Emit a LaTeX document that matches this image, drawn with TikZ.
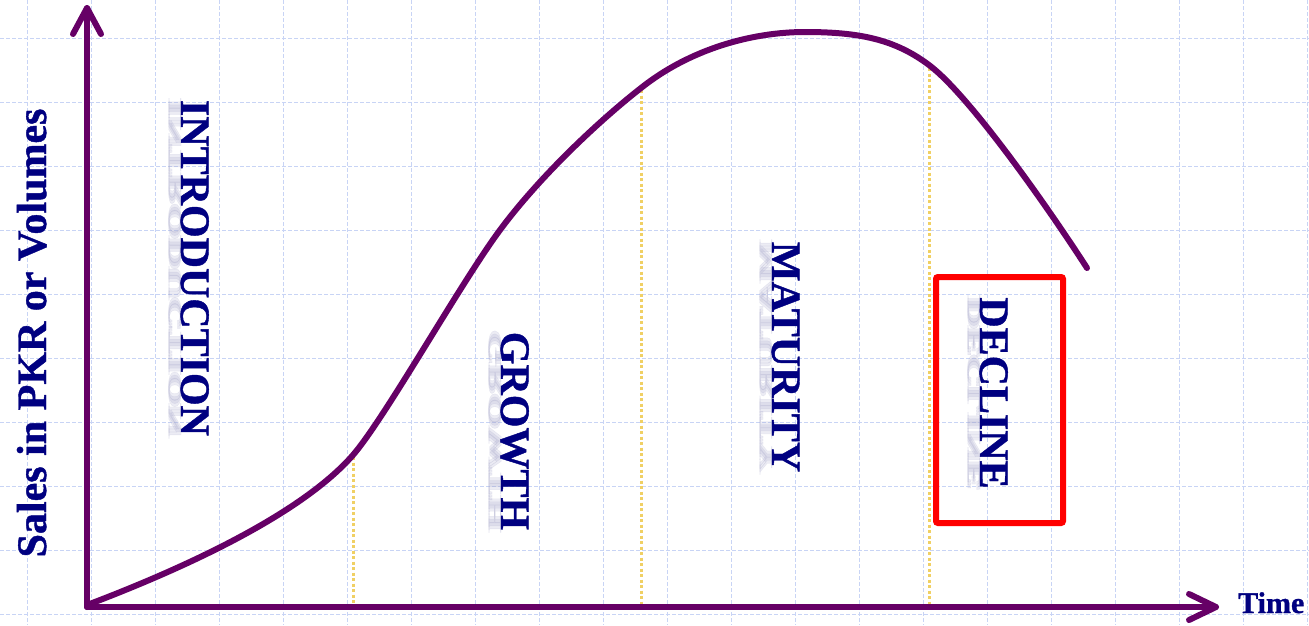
\documentclass[tikz,border=0pt]{standalone}
\usepackage{fontspec}
\setmainfont{Liberation Serif}
\newfontfamily\heavyserif[FakeBold=1.0]{Liberation Serif}
\definecolor{plum}{RGB}{102,0,102}
\definecolor{navytext}{RGB}{0,0,128}
\definecolor{gridblue}{RGB}{200,212,245}
\definecolor{gold}{RGB}{240,208,100}
\definecolor{reflgray}{RGB}{170,170,205}
\tikzset{
  gridline/.style={gridblue, line width=1pt, dash pattern=on 4pt off 2pt},
  axisline/.style={plum, line width=6pt, line cap=round, line join=round},
  curveline/.style={plum, line width=6pt, line cap=round},
  phaseline/.style={gold, line width=3pt, dash pattern=on 3pt off 2.5pt},
  phasetext/.style={font=\fontsize{42}{50}\selectfont\heavyserif\bfseries, text=navytext, inner sep=0pt, anchor=base},
  refltext/.style={font=\fontsize{42}{50}\selectfont\heavyserif\bfseries, text=reflgray, opacity=0.22, inner sep=0pt, anchor=base, transform shape},
  axistext/.style={font=\fontsize{42}{50}\selectfont\heavyserif\bfseries, text=navytext, inner sep=0pt, anchor=base},
  highlight/.style={red, line width=6pt, rounded corners=2pt},
}
\newcommand\reflectlabel[2]{%
  \foreach \dd in {-3,0,3}{%
  \begin{scope}[shift={(#1)}, yshift=\dd pt, rotate=-90, yscale=-0.45]
    \node[refltext] at (0,0) {#2};
  \end{scope}}}
\begin{document}
\begin{tikzpicture}[x=1pt,y=-1pt]
\useasboundingbox (0,0) rectangle (1309,625);
\fill[white] (0,0) rectangle (1309,625);
% grid
\foreach \gx in {27,91,...,1307} \draw[gridline] (\gx,0) -- (\gx,625);
\foreach \gy in {38,102,...,614} \draw[gridline] (0,\gy) -- (1309,\gy);
% key coordinates
\coordinate (O) at (87,607);
\coordinate (ytip) at (87,8);
\coordinate (xtip) at (1216,607);
% phase boundaries
\coordinate (b1top) at (353,457);
\coordinate (b1bot) at (353,607);
\coordinate (b2top) at (641,90);
\coordinate (b2bot) at (641,607);
\coordinate (b3top) at (929,68);
\coordinate (b3bot) at (929,607);
\draw[phaseline] (b1top) -- (b1bot);
\draw[phaseline] (b2top) -- (b2bot);
\draw[phaseline] (b3top) -- (b3bot);
% axes
\draw[axisline] (O) -- (ytip);
\draw[axisline] (73,34) -- (ytip) -- (101,34);
\draw[axisline] (O) -- (xtip);
\draw[axisline] (1189,594) -- (xtip) -- (1189,620);
% curve
\draw[curveline] (87,605)
  .. controls (190,566) and (303,512.5) .. (353,455)
  .. controls (385,418) and (460,284) .. (500,230)
  .. controls (540,176) and (600,120) .. (641,88)
  .. controls (690,49) and (752,32) .. (805,32)
  .. controls (860,32) and (895,39.5) .. (929,65)
  .. controls (969,95) and (1047,206) .. (1087,268);
% red box
\draw[highlight] (936,277) rectangle (1063,523);
% reflections
\reflectlabel{181,268}{INTRODUCTION}
\reflectlabel{501,431}{GROWTH}
\reflectlabel{772,357}{MATURITY}
\reflectlabel{980,393}{DECLINE}
% phase labels
\node[phasetext, rotate=-90] (intro) at (181,268) {INTRODUCTION};
\node[phasetext, rotate=-90] (growth) at (501,431) {GROWTH};
\node[phasetext, rotate=-90] (maturity) at (772,357) {MATURITY};
\node[phasetext, rotate=-90] (decline) at (980,393) {DECLINE};
% axis labels
\node[axistext, rotate=90] (ylabel) at (46,333) {Sales in PKR or Volumes};
\node[axistext, font=\fontsize{30}{36}\selectfont\heavyserif\bfseries, anchor=base west] (xlabel) at (1238,613) {Time};
\end{tikzpicture}
\end{document}
